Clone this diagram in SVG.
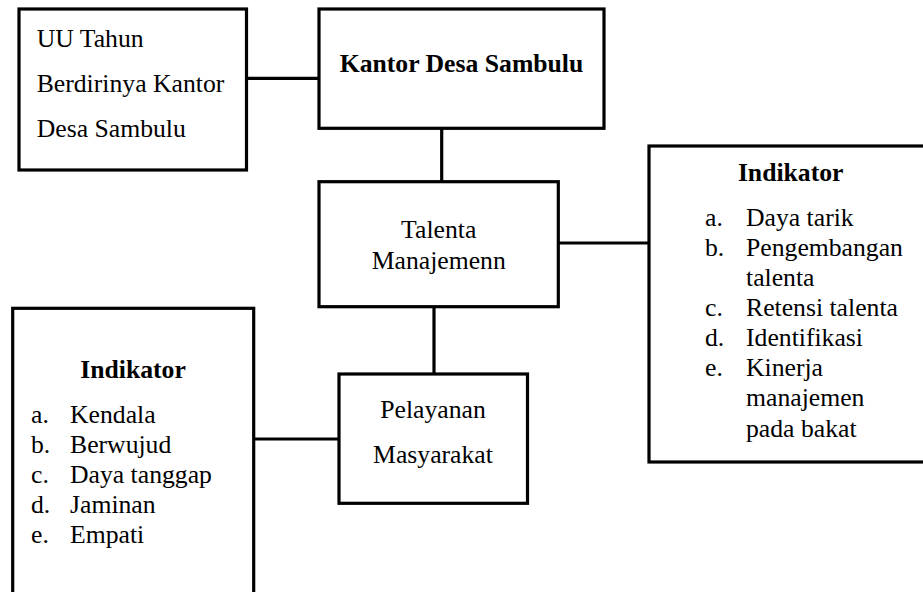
<svg xmlns="http://www.w3.org/2000/svg" width="923" height="592" viewBox="0 0 923 592">
<style>
.box{fill:#fff;stroke:#000;stroke-width:3.2}
.c{stroke:#000;stroke-width:3.2;fill:none}
.t{font-family:'Liberation Serif','Times New Roman',serif;font-size:25.7px;fill:#000}
.b{font-weight:bold}
.m{text-anchor:middle}
</style>
<rect width="923" height="592" fill="#fff"/>
<g id="connectors">
<line class="c" x1="246" y1="78.3" x2="320" y2="78.3"/>
<line class="c" x1="441.7" y1="128" x2="441.7" y2="182"/>
<line class="c" x1="558" y1="243" x2="650" y2="243"/>
<line class="c" x1="434" y1="306" x2="434" y2="375"/>
<line class="c" x1="253" y1="439" x2="340" y2="439"/>
</g>
<g id="uu" class="t">
<rect class="box" x="19" y="9" width="227.5" height="161"/>
<text x="36.7" y="46.7">UU Tahun</text>
<text x="36.7" y="91.7">Berdirinya Kantor</text>
<text x="36.7" y="137.3">Desa Sambulu</text>
</g>
<g id="kantor" class="t">
<rect class="box" x="319" y="9" width="285" height="119.3"/>
<text class="b m" x="461.5" y="72">Kantor Desa Sambulu</text>
</g>
<g id="talenta" class="t">
<rect class="box" x="319" y="181.7" width="239.3" height="125"/>
<text class="m" x="438.7" y="238.3">Talenta</text>
<text class="m" x="438.7" y="268.8">Manajemenn</text>
</g>
<g id="indikator-kanan" class="t">
<rect class="box" x="649" y="146" width="290" height="316"/>
<text class="b m" x="790.7" y="180.7">Indikator</text>
<text x="705" y="226">a.</text><text x="746" y="226">Daya tarik</text>
<text x="705" y="256">b.</text><text x="746" y="256">Pengembangan</text>
<text x="746" y="286">talenta</text>
<text x="705" y="316">c.</text><text x="746" y="316">Retensi talenta</text>
<text x="705" y="346">d.</text><text x="746" y="346">Identifikasi</text>
<text x="705" y="376">e.</text><text x="746" y="376">Kinerja</text>
<text x="746" y="406">manajemen</text>
<text x="746" y="436.5">pada bakat</text>
</g>
<g id="pelayanan" class="t">
<rect class="box" x="339" y="374" width="188.5" height="129.3"/>
<text class="m" x="433" y="418.3">Pelayanan</text>
<text class="m" x="433" y="462.7">Masyarakat</text>
</g>
<g id="indikator-kiri" class="t">
<rect class="box" x="12.7" y="308.3" width="241" height="300"/>
<text class="b m" x="133" y="378.3">Indikator</text>
<text x="31" y="422.7">a.</text><text x="70" y="422.7">Kendala</text>
<text x="31" y="452.7">b.</text><text x="70" y="452.7">Berwujud</text>
<text x="31" y="482.7">c.</text><text x="70" y="482.7">Daya tanggap</text>
<text x="31" y="512.9">d.</text><text x="70" y="512.9">Jaminan</text>
<text x="31" y="543.3">e.</text><text x="70" y="543.3">Empati</text>
</g>
</svg>
